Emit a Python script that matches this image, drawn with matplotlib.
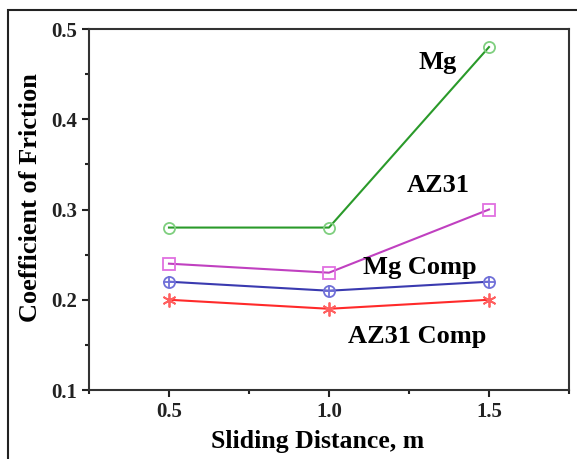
import matplotlib.pyplot as plt
from matplotlib.patches import Rectangle
from matplotlib.ticker import MultipleLocator

distance = [0.5, 1.0, 1.5]
mg = [0.28, 0.28, 0.48]
az31 = [0.24, 0.23, 0.30]
mg_comp = [0.22, 0.21, 0.22]
az31_comp = [0.20, 0.19, 0.20]

labels = ["Mg", "AZ31", "Mg Comp", "AZ31 Comp"]
label_pos = [(1.34, 0.463), (1.34, 0.327), (1.285, 0.236), (1.275, 0.159)]

plt.rcParams['font.family'] = ['Liberation Serif', 'DejaVu Serif']
plt.rcParams['font.weight'] = 'bold'

fig = plt.figure(figsize=(5.77, 4.59), dpi=100)
ax = fig.add_axes([0.1542, 0.1503, 0.8319, 0.7865])

# outer frame around the whole picture
fig.patches.append(Rectangle((8 / 577, -0.1), 1.2, 1.1 - 10 / 459, transform=fig.transFigure,
                             fill=False, edgecolor='#222222', linewidth=1.5, clip_on=False))

ax.plot(distance, mg, color='#2a9a2a', lw=1.5, marker='o', ms=8, mfc='none',
        mec='#7fcf7f', mew=1.3)
ax.plot(distance, az31, color='#c040c0', lw=1.5, marker='s', ms=8, mfc='none',
        mec='#e070e0', mew=1.3)
ax.plot(distance, mg_comp, color='#3a3ab0', lw=1.5, marker='o', ms=8, mfc='none',
        mec='#7070d8', mew=1.3)
ax.plot(distance, mg_comp, ls='none', marker='+', ms=8, mec='#7070d8', mew=1.3)
ax.plot(distance, az31_comp, color='#ff2a2a', lw=1.5, marker=(6, 2, 0), ms=10,
        mec='#ff6060', mew=1.3)

for text, (x, y) in zip(labels, label_pos):
    ax.text(x, y, text, ha='center', va='center', fontsize=19, fontweight='bold')

ax.set_xlim(0.25, 1.75)
ax.set_ylim(0.1, 0.5)
ax.xaxis.set_major_locator(MultipleLocator(0.5))
ax.xaxis.set_minor_locator(MultipleLocator(0.25))
ax.yaxis.set_major_locator(MultipleLocator(0.1))
ax.yaxis.set_minor_locator(MultipleLocator(0.05))
ax.xaxis.set_major_formatter(lambda v, p: f"{v:.1f}")
ax.yaxis.set_major_formatter(lambda v, p: f"{v:.1f}")
ax.tick_params(which='major', direction='out', length=5, width=1.5, labelsize=15, colors='#222222')
ax.tick_params(which='minor', direction='out', length=3, width=1.5, colors='#222222')
for s in ax.spines.values():
    s.set_linewidth(1.5)
    s.set_color('#333333')

ax.set_xlabel("Sliding Distance, m", fontsize=18.5, fontweight='bold')
ax.set_ylabel("Coefficient of Friction", fontsize=19, fontweight='bold')
ax.xaxis.set_label_coords(0.477, -0.11)
ax.yaxis.set_label_coords(-0.097, 0.532)

fig.savefig("out.png", dpi=100)
